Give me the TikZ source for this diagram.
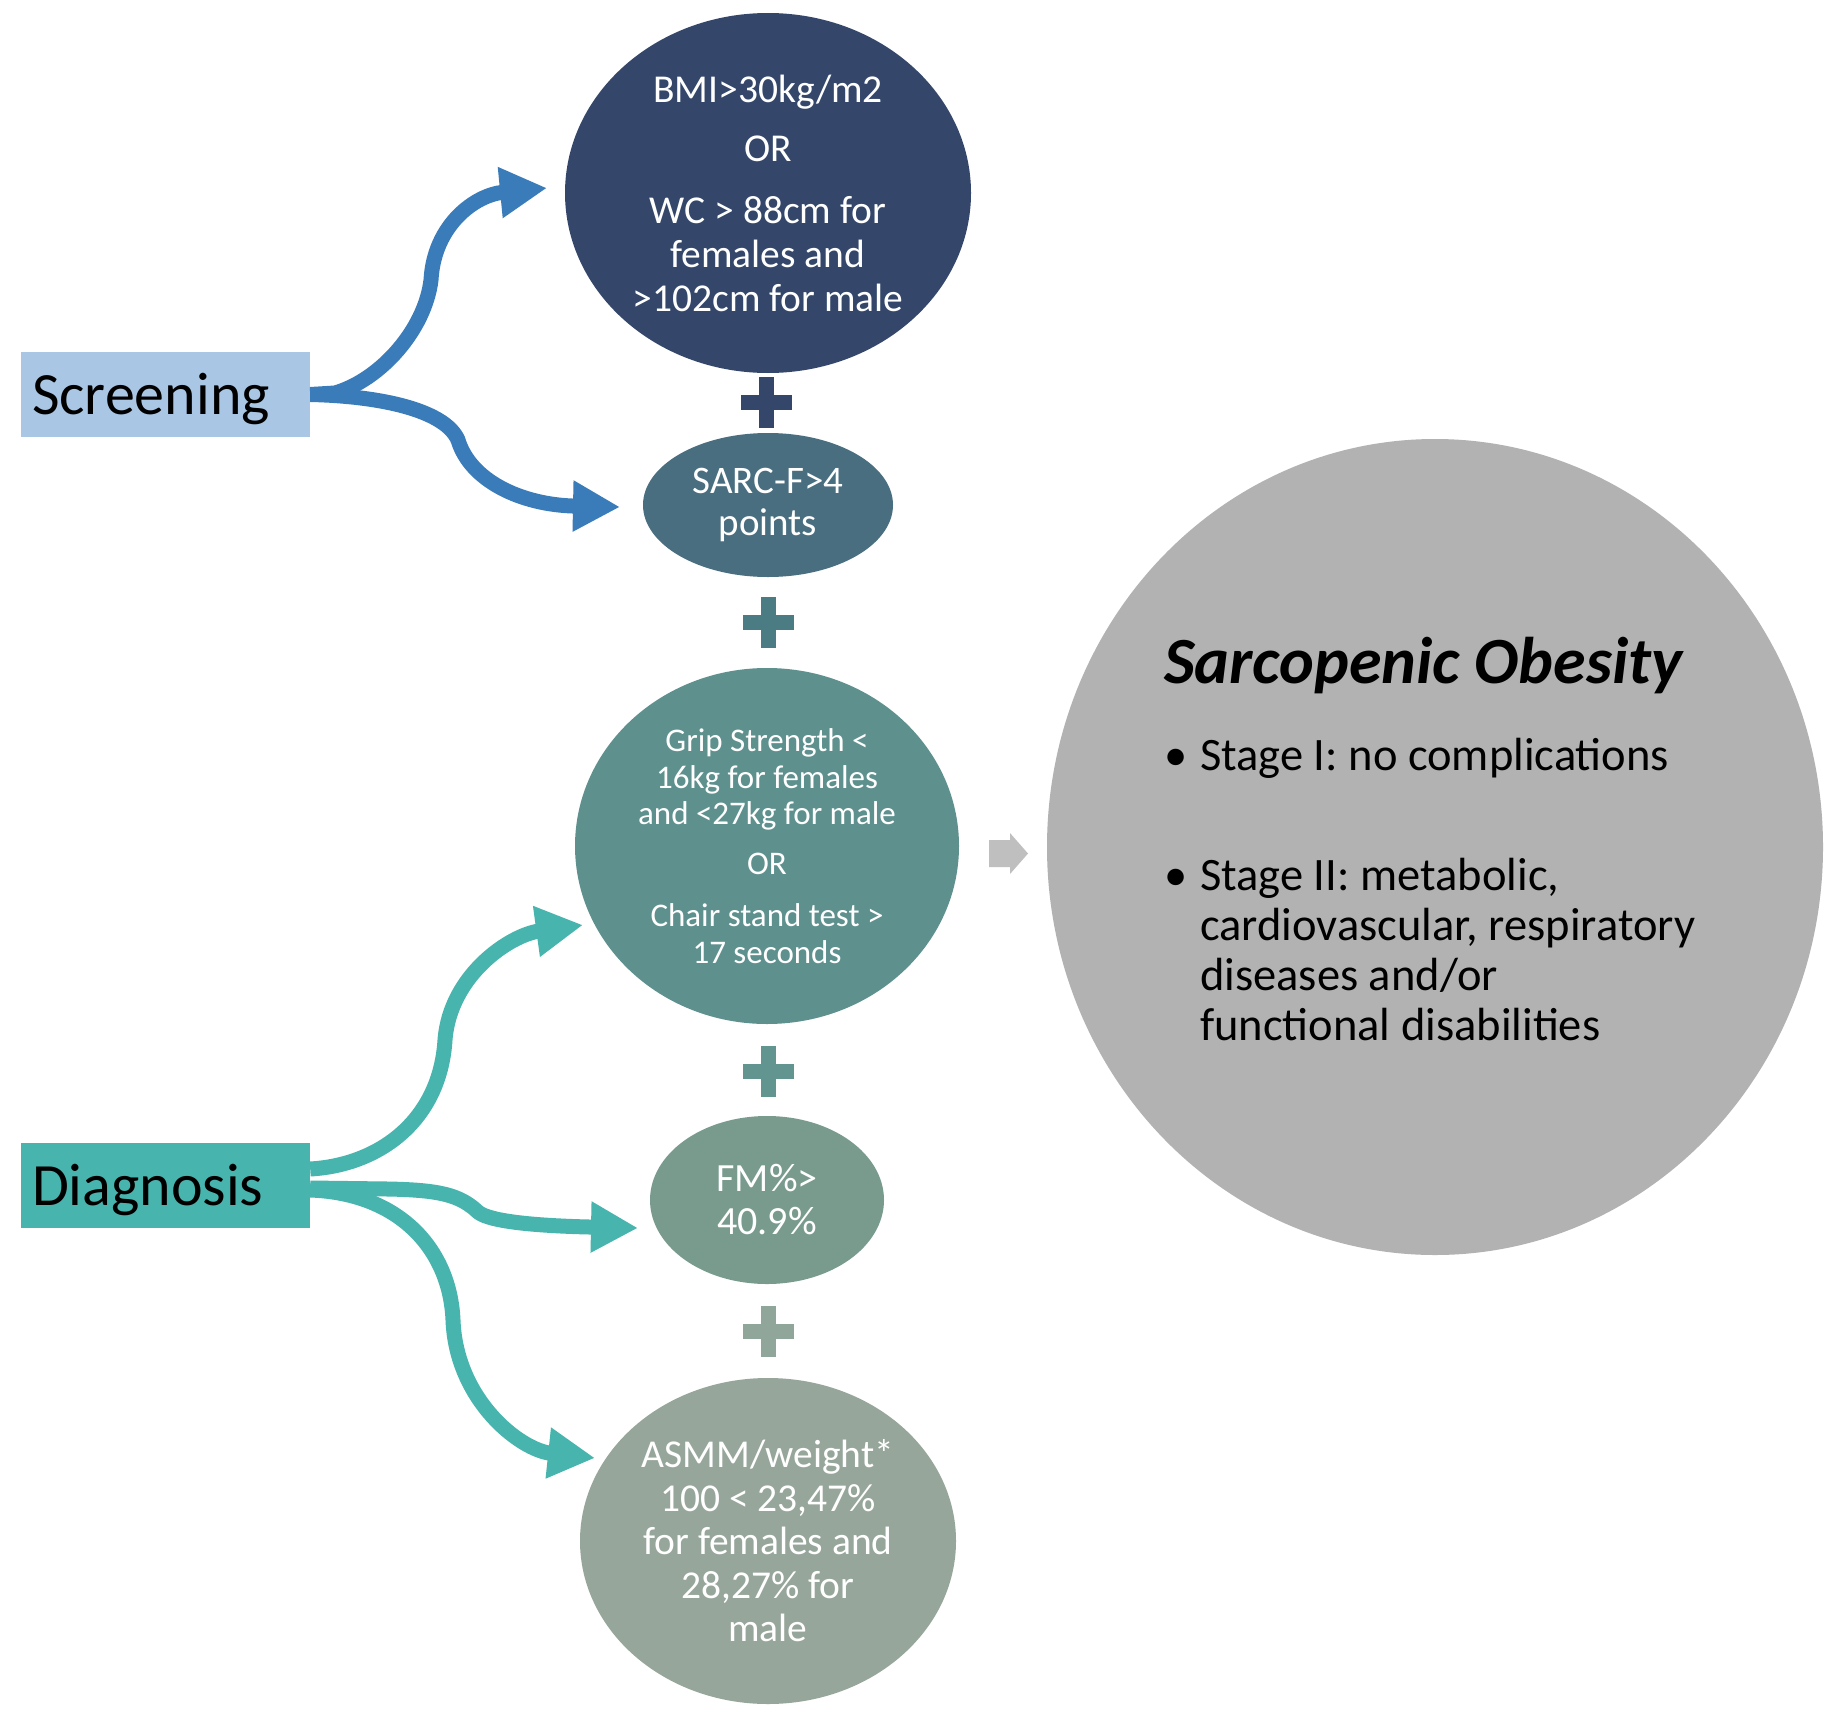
\documentclass[tikz,border=0pt]{standalone}
\usepackage{fontspec}
\setmainfont{Carlito}
\usetikzlibrary{shapes.geometric,arrows.meta}
\definecolor{cNavy}{HTML}{34476B}
\definecolor{cSarc}{HTML}{496E80}
\definecolor{cGrip}{HTML}{5E918E}
\definecolor{cFM}{HTML}{799B8E}
\definecolor{cASMM}{HTML}{97A69B}
\definecolor{cSO}{HTML}{B2B2B2}
\definecolor{cGreyArrow}{HTML}{BFBFBF}
\definecolor{cScrBox}{HTML}{A9C6E4}
\definecolor{cScrArrow}{HTML}{3A7BBA}
\definecolor{cDia}{HTML}{48B4AE}
\definecolor{cPlusB}{HTML}{4B7B83}
\definecolor{cPlusC}{HTML}{629590}
\definecolor{cPlusD}{HTML}{90A69A}
\newcommand\plusmark[3]{%
  \fill[#3] (#1-25.5,#2-7.5) rectangle (#1+25.5,#2+7.5);
  \fill[#3] (#1-7.5,#2-25.5) rectangle (#1+7.5,#2+25.5);}
\begin{document}
\begin{tikzpicture}[x=1pt,y=-1pt,
  crit/.style={ellipse, inner sep=0pt, text=white, align=center},
  tag/.style={rectangle, inner xsep=11pt, inner ysep=0pt, minimum height=85pt,
    text width=267pt, text height=40pt, text depth=0pt, align=left, font=\fontsize{60}{72}\selectfont},
  flow/.style={line width=15pt, -{Triangle[length=47pt,width=48pt]}},
  sotext/.style={anchor=base west, inner sep=0pt, font=\fontsize{46.5}{50}\selectfont}]
\fill[white] (0,0) rectangle (1843,1718);
\useasboundingbox (0,0) rectangle (1843,1718);

% central criteria
\node[crit, fill=cNavy, minimum width=406pt, minimum height=360pt,
  font=\fontsize{39.5}{44}\selectfont] (bmi) at (768,193)
  {BMI>30kg/m2\\[15pt]OR\\[18pt]WC > 88cm for\\females and\\>102cm for male};
\node[crit, fill=cSarc, minimum width=250pt, minimum height=144pt,
  font=\fontsize{39}{42}\selectfont] (sarc) at (768,505)
  {SARC-F>4\\points};
\node[crit, fill=cGrip, minimum width=384pt, minimum height=356pt,
  font=\fontsize{33}{36.5}\selectfont] (grip) at (767,846)
  {Grip Strength <\\16kg for females\\and <27kg for male\\[13.5pt]OR\\[15.5pt]Chair stand test >\\17 seconds};
\node[crit, fill=cFM, minimum width=234pt, minimum height=168pt,
  font=\fontsize{40}{43}\selectfont] (fm) at (767,1200)
  {FM\%>\\40.9\%};
\node[crit, fill=cASMM, minimum width=376pt, minimum height=326pt,
  font=\fontsize{39.5}{43.5}\selectfont] (asmm) at (768,1541)
  {ASMM/weight*\\100 < 23,47\%\\for females and\\28,27\% for\\male};

% plus signs
\plusmark{766}{402}{cNavy}
\plusmark{768}{622}{cPlusB}
\plusmark{768}{1071}{cPlusC}
\plusmark{768}{1331}{cPlusD}

% result
\node[ellipse, fill=cSO, minimum width=776pt, minimum height=816pt, inner sep=0pt] (so) at (1435,847) {};
\node[anchor=base west, inner sep=0pt, font=\fontsize{66}{77}\selectfont\bfseries\itshape] (sotitle) at (1164,683) {Sarcopenic Obesity};
\node[sotext] (st1) at (1164,770) {\makebox[36pt][l]{\textbullet}Stage I: no complications};
\node[sotext] (st2a) at (1164,890) {\makebox[36pt][l]{\textbullet}Stage II: metabolic,};
\node[sotext] (st2b) at (1200,940) {cardiovascular, respiratory};
\node[sotext] (st2c) at (1200,990) {diseases and/or};
\node[sotext] (st2d) at (1200,1040) {functional disabilities};

% grey arrow
\fill[cGreyArrow] (989,840) -- (1010,840) -- (1010,833) -- (1028,853.5) -- (1010,874) -- (1010,867) -- (989,867) -- cycle;

% left tags
\node[tag, fill=cScrBox] (scr) at (165.5,394.5) {Screening};
\node[tag, fill=cDia] (dia) at (165.5,1185) {Diagnosis};

% connectors
\coordinate (t1) at (547,188);
\coordinate (t2) at (620,507);
\coordinate (t3) at (583,925);
\coordinate (t4) at (638,1228);
\coordinate (t5) at (595,1458);
\draw[flow, cScrArrow] (scr.east) -- (335,393) .. controls (380,380) and (425,330) .. (431,280) .. controls (434,225) and (475,195) .. (t1);
\draw[flow, cScrArrow] (scr.east) .. controls (380,396) and (445,410) .. (458,440) .. controls (470,480) and (520,505) .. (t2);
\draw[flow, cDia] ([yshift=16pt]dia.east) .. controls (380,1165) and (440,1120) .. (445,1040) .. controls (450,975) and (510,935) .. (t3);
\draw[flow, cDia] ([yshift=-3pt]dia.east) -- (388,1189) .. controls (440,1190) and (460,1195) .. (478,1212) .. controls (490,1222) and (540,1226) .. (t4);
\draw[flow, cDia] ([yshift=-5pt]dia.east) .. controls (400,1193) and (450,1250) .. (453,1320) .. controls (456,1400) and (520,1450) .. (t5);
\end{tikzpicture}
\end{document}
